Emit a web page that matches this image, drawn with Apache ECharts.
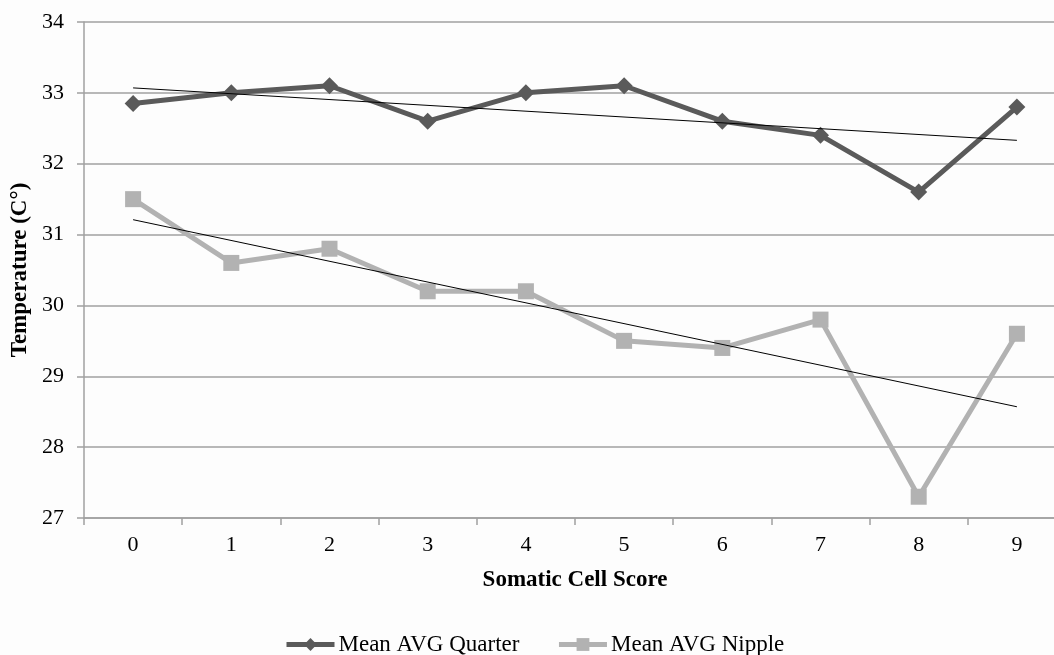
<!DOCTYPE html>
<html>
<head>
<meta charset="utf-8">
<script src="https://cdn.jsdelivr.net/npm/echarts@6/dist/echarts.min.js"></script>
<style>
html,body{margin:0;padding:0;background:#fdfdfd;}
#chart{width:1054px;height:655px;}
</style>
</head>
<body>
<div id="chart"></div>
<script>
const categories = ['0','1','2','3','4','5','6','7','8','9'];
const meanAvgQuarter = [32.85, 33.0, 33.1, 32.6, 33.0, 33.1, 32.6, 32.4, 31.6, 32.8];
const meanAvgNipple = [31.5, 30.6, 30.8, 30.2, 30.2, 29.5, 29.4, 29.8, 27.3, 29.6];
const trendQuarter = [[0, 33.07], [9, 32.33]];
const trendNipple = [[0, 31.21], [9, 28.57]];
const yTicks = {min: 27, max: 34, interval: 1};

const FONT = '"Liberation Serif", "Times New Roman", serif';
const chart = echarts.init(document.getElementById('chart'));
chart.setOption({
  backgroundColor: '#fdfdfd',
  animation: false,
  grid: {left: 84, top: 22, width: 982, bottom: 137, outerBoundsMode: 'none', containLabel: false},
  legend: {
    data: ['Mean AVG Quarter', 'Mean AVG Nipple'],
    left: 284,
    top: 633,
    padding: 0,
    itemWidth: 48,
    itemHeight: 16,
    itemGap: 37,
    lineStyle: {width: 5},
    textStyle: {fontFamily: FONT, fontSize: 23, color: '#000', padding: [0, 0, 0, -1]}
  },
  xAxis: {
    type: 'category',
    data: categories,
    boundaryGap: true,
    name: 'Somatic Cell Score',
    nameLocation: 'middle',
    nameGap: 51,
    nameTextStyle: {fontFamily: FONT, fontSize: 23, fontWeight: 'bold', color: '#000'},
    axisLine: {lineStyle: {color: '#a0a0a0', width: 1.5}},
    axisTick: {show: true, length: 7, lineStyle: {color: '#a0a0a0', width: 1.5}},
    axisLabel: {fontFamily: FONT, fontSize: 22, color: '#000', margin: 16}
  },
  yAxis: {
    type: 'value',
    min: yTicks.min,
    max: yTicks.max,
    interval: yTicks.interval,
    name: 'Temperature (C°)',
    nameLocation: 'middle',
    nameGap: 50,
    nameTextStyle: {fontFamily: FONT, fontSize: 23, fontWeight: 'bold', color: '#000'},
    axisLine: {show: true, lineStyle: {color: '#a0a0a0', width: 1.5}},
    axisTick: {show: true, length: 7, lineStyle: {color: '#a0a0a0', width: 1.5}},
    axisLabel: {fontFamily: FONT, fontSize: 22, color: '#000', margin: 20},
    splitLine: {lineStyle: {color: '#a0a0a0', width: 1.5}}
  },
  series: [
    {
      name: 'Mean AVG Quarter',
      type: 'line',
      data: meanAvgQuarter,
      symbol: 'diamond',
      symbolSize: 17,
      lineStyle: {color: '#5a5a5a', width: 5},
      itemStyle: {color: '#5a5a5a'},
      z: 3
    },
    {
      name: 'Mean AVG Nipple',
      type: 'line',
      data: meanAvgNipple,
      symbol: 'rect',
      symbolSize: 16,
      lineStyle: {color: '#b2b2b2', width: 5},
      itemStyle: {color: '#b2b2b2'},
      z: 3
    },
    {
      name: 'trendQuarter',
      type: 'line',
      data: trendQuarter,
      symbol: 'none',
      silent: true,
      lineStyle: {color: '#000', width: 1},
      z: 4
    },
    {
      name: 'trendNipple',
      type: 'line',
      data: trendNipple,
      symbol: 'none',
      silent: true,
      lineStyle: {color: '#000', width: 1},
      z: 4
    }
  ]
});
</script>
</body>
</html>
